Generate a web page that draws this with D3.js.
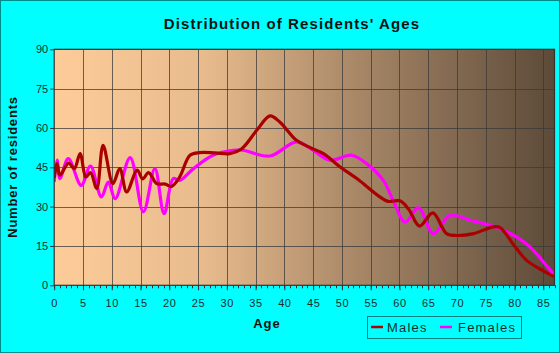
<!DOCTYPE html>
<html><head><meta charset="utf-8">
<script src="https://cdn.jsdelivr.net/npm/d3@7"></script>
<style>html,body{margin:0;padding:0;background:#00ffff;}svg{display:block;font-family:Arial,"Liberation Sans",sans-serif;}</style>
</head><body>
<script>
const titleText = "Distribution of Residents' Ages";
const xTicks = [0,5,10,15,20,25,30,35,40,45,50,55,60,65,70,75,80,85];
const yTicks = [0,15,30,45,60,75,90];
const seriesNames = ["Males","Females"];
const seriesColors = ["#aa0000","#ff00ff"];

const maleAges = [0,0.5,1,2.5,3.5,4.5,5.5,6.3,7.4,8.5,10.2,11.4,12.6,14.4,15.4,16.4,17.8,19.3,20.4,21.8,23.6,25.3,28,30.5,32.6,35.2,37.5,39.2,42.1,44.5,46.8,49.7,52.6,56.6,58,60.1,61.6,63.5,65.8,68.2,70,72.9,76.3,77.5,80,82.1,85,87];
const maleValues = [41,46.4,42,46.6,44.5,50.2,41.3,43,36.9,53.4,38.8,44.5,35.6,43.9,40.6,43,38.8,38.6,37.7,41.3,49.6,50.6,50.5,50.2,52.1,59.1,64.6,62.3,55.3,52.5,50.2,45.1,40.7,33.7,32,32.2,29,22.6,27.6,19.7,19,19.7,22.3,22,15,9.5,5.5,3.2];

const femaleAges = [0,0.5,1,2.45,4.7,6.3,8.2,9.4,10.6,13.2,15.5,17.5,19.1,20.7,21.8,24.2,27.6,31.1,32.8,37.5,42.1,45,47.9,51.7,54.3,57.2,58.9,61,63.3,65.9,68.8,72.3,76.3,80.4,82.7,86.7,87];
const femaleValues = [39.4,47.7,40.7,48.3,38.1,45.5,33.7,39.4,33,48.7,28,44.5,27.3,40.7,40,44.5,49.6,51.5,51.5,49.3,54.7,51.5,47.7,49.6,46.4,40,32.4,24.1,29.6,19.7,26.7,24.8,22.5,18.4,14.6,4.5,3.8];

const W = 560, H = 353;
const svg = d3.select("body").append("svg").attr("width", W).attr("height", H);
svg.append("rect").attr("x",0.5).attr("y",0.5).attr("width",W-1).attr("height",H-1)
  .attr("fill","#00ffff").attr("stroke","#008b8b");

const L = 54.2, R = 554.5, T = 49.3, B = 285.3;
const x = d3.scaleLinear().domain([0,87]).range([L, L + 87*5.754]);
const y = d3.scaleLinear().domain([0,90]).range([B, T]);

const defs = svg.append("defs");
const grad = defs.append("linearGradient").attr("id","bg").attr("x1","0").attr("x2","1").attr("y1","0").attr("y2","0");
[[0,"#fdcc99"],[0.3,"#e8bb8d"],[0.6,"#a98868"],[1,"#5c4a39"]].forEach(s=>grad.append("stop").attr("offset",s[0]).attr("stop-color",s[1]));
defs.append("clipPath").attr("id","clip").append("rect").attr("x",L).attr("y",T).attr("width",R-L).attr("height",B-T);

svg.append("rect").attr("x",L).attr("y",T).attr("width",R-L).attr("height",B-T).attr("fill","url(#bg)");

// grid
const g = svg.append("g");
g.selectAll(".vg").data(xTicks.filter(d=>d>0)).enter().append("line")
  .attr("x1",d=>Math.round(x(d))+0.5).attr("x2",d=>Math.round(x(d))+0.5).attr("y1",T).attr("y2",B)
  .attr("stroke","#3a3a3a").attr("stroke-opacity",0.75).attr("stroke-width",1);
g.selectAll(".hg").data(yTicks.filter(d=>d>0)).enter().append("line")
  .attr("y1",d=>Math.round(y(d))+0.5).attr("y2",d=>Math.round(y(d))+0.5).attr("x1",L).attr("x2",R)
  .attr("stroke","#3a3a3a").attr("stroke-opacity",0.75).attr("stroke-width",1);

// lines
const line = d3.line().x(d=>x(d[0])).y(d=>y(d[1])).curve(d3.curveCatmullRom.alpha(0.5));
const lines = svg.append("g").attr("clip-path","url(#clip)");
lines.append("path").datum(femaleAges.map((a,i)=>[a,femaleValues[i]]))
  .attr("d",line).attr("fill","none").attr("stroke",seriesColors[1]).attr("stroke-width",3.2).attr("stroke-linejoin","round");
lines.append("path").datum(maleAges.map((a,i)=>[a,maleValues[i]]))
  .attr("d",line).attr("fill","none").attr("stroke",seriesColors[0]).attr("stroke-width",3.2).attr("stroke-linejoin","round");

// border
svg.append("rect").attr("x",L).attr("y",T).attr("width",R-L).attr("height",B-T)
  .attr("fill","none").attr("stroke","#333").attr("stroke-width",1.2);

// axes
const xa = svg.append("g").attr("transform",`translate(0,${B})`)
  .call(d3.axisBottom(x).tickValues(xTicks).tickSize(5).tickPadding(9).tickFormat(d3.format("d")));
xa.select(".domain").remove();
const minor = d3.range(0,88);
svg.append("g").selectAll("line").data(minor).enter().append("line")
  .attr("x1",d=>Math.round(x(d))+0.5).attr("x2",d=>Math.round(x(d))+0.5).attr("y1",B).attr("y2",B+3)
  .attr("stroke","#333");
const ya = svg.append("g").attr("transform",`translate(${L},0)`)
  .call(d3.axisLeft(y).tickValues(yTicks).tickSize(4).tickPadding(2));
ya.select(".domain").remove();
[xa,ya].forEach(a=>{
  a.selectAll(".tick line").attr("stroke","#333");
  a.selectAll(".tick text").attr("fill","#1a2e2e").style("font-size","11px").style("font-family","Arial, 'Liberation Sans', sans-serif");
});
xa.selectAll(".tick text").style("letter-spacing","0.6px");

// titles
svg.append("text").attr("x",292).attr("y",29).attr("text-anchor","middle")
  .style("font-size","15px").style("font-weight","bold").style("letter-spacing","1.1px").attr("fill","#111").text(titleText);
svg.append("text").attr("x",267).attr("y",328).attr("text-anchor","middle")
  .style("font-size","13px").style("font-weight","bold").style("letter-spacing","1px").attr("fill","#111").text("Age");
svg.append("text").attr("transform","translate(17,167) rotate(-90)").attr("text-anchor","middle")
  .style("font-size","13px").style("font-weight","bold").style("letter-spacing","0.8px").attr("fill","#111").text("Number of residents");

// legend
const lg = svg.append("g");
lg.append("rect").attr("x",367.5).attr("y",316.5).attr("width",154).attr("height",22).attr("fill","none").attr("stroke","#008080");
const lx = [371,440];
const tx = [387,458];
seriesNames.forEach((n,i)=>{
  lg.append("line").attr("x1",lx[i]).attr("x2",lx[i]+12).attr("y1",327).attr("y2",327).attr("stroke",seriesColors[i]).attr("stroke-width",2.5);
  lg.append("text").attr("x",tx[i]).attr("y",332).style("font-size","13px").style("letter-spacing","1.2px").attr("fill","#1a2e2e").text(n);
});
</script>
</body></html>
